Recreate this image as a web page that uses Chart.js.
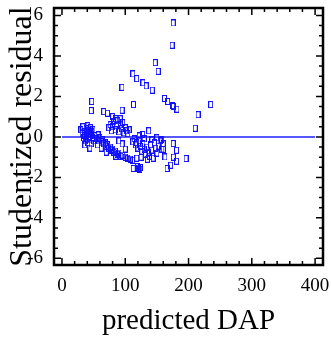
<!DOCTYPE html>
<html>
<head>
<meta charset="utf-8">
<script src="https://cdn.jsdelivr.net/npm/chart.js@4"></script>
<style>
html,body{margin:0;padding:0;background:#fff}
</style>
</head>
<body>
<canvas id="resChart" width="331" height="337"></canvas>
<script>
// predicted DAP (x) and studentized residual (y)
const predDAP = [
  30,32,33,34,35,36,37,38,38,39,40,41,41,42,43,44,45,46,46,47,48,49,50,44,36,
  52,55,57,58,60,62,64,66,68,70,72,74,76,78,80,82,84,87,90,93,96,100,104,108,112,56,62,70,85,
  66,72,80,85,92,95,74,76,78,80,82,84,86,88,90,92,94,96,98,100,102,104,106,90,95,100,
  112,114,116,118,120,122,124,126,128,130,132,134,136,138,140,142,144,146,148,150,152,155,158,160,127.5,137,157.5,160,162.7,118,125,135,130,142,150,122,
  112.6,119,121,123,124,
  175.8,181,181,176,171.7,166,196,
  175.8,174,147.4,152,112,118,128,133,142.7,94.8,47,46.3,113,162,167,175,176,181.7,235,215,210.6
];
const studRes = [
  0.35,0.15,0.5,-0.05,0.25,0.05,-0.2,0.4,0.1,-0.1,0.3,0.55,-0.3,0.0,0.2,-0.15,0.45,0.1,-0.35,0.25,-0.05,0.35,-0.2,-0.55,-0.4,
  0.05,-0.1,0.1,-0.2,-0.05,-0.25,-0.15,-0.35,-0.3,-0.45,-0.4,-0.55,-0.5,-0.65,-0.6,-0.75,-0.7,-0.85,-0.8,-0.95,-0.9,-1.0,-1.05,-1.1,-1.15,-0.4,-0.55,-0.75,-0.95,
  1.25,1.17,1.0,0.9,0.9,1.32,0.45,0.6,0.3,0.5,0.75,0.35,0.55,0.8,0.25,0.6,0.4,0.7,0.2,0.45,0.3,0.15,0.35,-0.2,-0.35,-0.6,
  -0.25,-0.1,-0.4,-0.3,-0.55,-0.2,-0.45,-0.7,-0.35,-0.6,-0.85,-0.5,-0.75,-0.95,-0.4,-0.65,-1.05,-0.3,-0.55,-0.8,-0.45,-0.2,-0.6,-0.35,0.12,0.3,-0.13,-0.62,-0.99,-1.05,-1.0,-1.1,-0.1,-0.15,-0.05,0.05,
  -1.56,-1.47,-1.55,-1.6,-1.52,
  -0.33,-0.66,-1.2,-1.0,-1.4,-1.56,-1.07,
  5.63,4.53,3.67,3.24,3.11,2.88,2.67,2.52,2.31,2.45,1.75,1.3,1.6,1.9,1.75,1.55,1.5,1.37,1.6,1.1,0.43
];
const zeroLineX = [0, 400];
const xTicks = [0, 100, 200, 300, 400];
const yTicks = [-6, -4, -2, 0, 2, 4, 6];

// small open rectangle marker
const marker = document.createElement('canvas');
marker.width = 5; marker.height = 7;
const mctx = marker.getContext('2d');
mctx.strokeStyle = '#1010ff';
mctx.lineWidth = 1;
mctx.strokeRect(0.5, 0.5, 4, 6);

// frame + inward ticks on all four sides
const frameTicks = {
  id: 'frameTicks',
  afterDatasetsDraw(chart) {
    const {ctx, chartArea: a, scales: {x, y}} = chart;
    ctx.save();
    ctx.strokeStyle = '#000';
    ctx.lineWidth = 1.5;
    ctx.beginPath();
    for (let v = 0; v <= 400; v += 20) {
      const px = x.getPixelForValue(v);
      const len = v % 100 === 0 ? 7 : 4;
      ctx.moveTo(px, a.bottom + 1); ctx.lineTo(px, a.bottom - len);
      ctx.moveTo(px, a.top - 1); ctx.lineTo(px, a.top + len);
    }
    for (let v = -6; v <= 6; v += 0.5) {
      const py = y.getPixelForValue(v);
      const len = v % 2 === 0 ? 7 : 4;
      ctx.moveTo(a.left - 1, py); ctx.lineTo(a.left + len, py);
      ctx.moveTo(a.right + 1, py); ctx.lineTo(a.right - len, py);
    }
    ctx.stroke();
    ctx.lineWidth = 2.5;
    ctx.strokeRect(a.left, a.top, a.right - a.left, a.bottom - a.top);
    ctx.restore();
  }
};

const serif = 'Liberation Serif';

new Chart(document.getElementById('resChart').getContext('2d'), {
  type: 'scatter',
  data: {
    datasets: [{
      data: predDAP.map((v, i) => ({x: v, y: studRes[i]})),
      pointStyle: marker,
      pointRadius: 3,
      pointHoverRadius: 3
    }, {
      data: zeroLineX.map(v => ({x: v, y: 0})),
      showLine: true,
      borderColor: '#2020ff',
      borderWidth: 1.5,
      pointRadius: 0
    }]
  },
  options: {
    responsive: false,
    animation: false,
    layout: {padding: {top: 8, right: 8, left: 0, bottom: 0}},
    plugins: {legend: {display: false}, tooltip: {enabled: false}},
    scales: {
      x: {
        type: 'linear',
        min: -12.6,
        max: 412.5,
        afterBuildTicks: s => { s.ticks = xTicks.map(v => ({value: v})); },
        afterFit: s => { s.height = 72; s.paddingLeft = 0; s.paddingRight = 0; },
        grid: {display: false},
        border: {display: false},
        ticks: {color: '#000', padding: 2, maxRotation: 0, font: {family: serif, size: 19}},
        title: {display: true, text: 'predicted DAP', color: '#000',
                font: {family: serif, size: 29, lineHeight: 1}, padding: {top: 0, bottom: 1}}
      },
      y: {
        min: -6.33,
        max: 6.37,
        afterBuildTicks: s => { s.ticks = yTicks.map(v => ({value: v})); },
        afterFit: s => { s.width = 54; s.paddingTop = 0; s.paddingBottom = 0; },
        grid: {display: false},
        border: {display: false},
        ticks: {color: '#000', padding: 3, font: {family: serif, size: 19}},
        title: {display: true, text: 'Studentized residual', color: '#000',
                font: {family: serif, size: 32, lineHeight: 1}, padding: {top: 7, bottom: 0}}
      }
    }
  },
  plugins: [frameTicks]
});
</script>
</body>
</html>
